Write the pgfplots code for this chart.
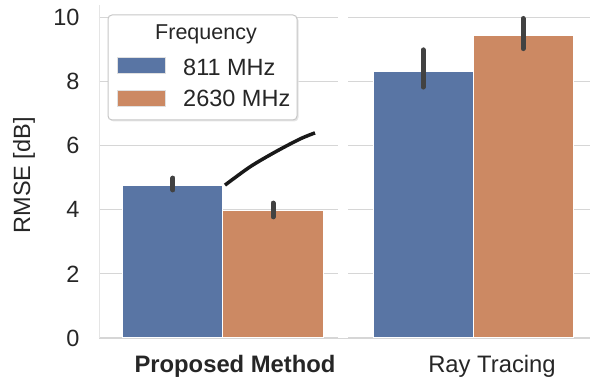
\documentclass[border=0pt]{standalone}
\usepackage{pgfplots}
\pgfplotsset{compat=1.18}
\usepackage{fontspec}
\setmainfont{Liberation Sans}
\definecolor{sbblue}{HTML}{5975A4}
\definecolor{sborange}{HTML}{CC8963}
\definecolor{gridc}{HTML}{D6D6D6}
\definecolor{errc}{HTML}{424242}
\definecolor{txt}{HTML}{262626}
\begin{document}
\begin{tikzpicture}
\useasboundingbox (0,0) rectangle (590pt,382pt);
\begin{axis}[
  at={(99pt,44pt)}, anchor=south west,
  scale only axis, width=491pt, height=333.3pt,
  xmin=-0.496, xmax=1.468, ymin=0, ymax=10.4,
  axis line style={draw=none},
  major tick length=0pt, tick style={draw=none},
  ymajorgrids, major grid style={gridc, line width=1.2pt},
  ytick={0,2,4,6,8,10}, yticklabels={0,2,4,6,8,10},
  xtick={0.048,1.076}, xticklabels={\textbf{Proposed Method},Ray Tracing},
  ticklabel style={text=txt},
  yticklabel style={font=\fontsize{23.5}{28}\selectfont, xshift=-16pt},
  xticklabel style={font=\fontsize{23.8}{28}\selectfont, yshift=-14pt},
  ylabel={RMSE [dB]},
  every axis y label/.style={at={([xshift=-75pt,yshift=-4pt]axis description cs:0,0.5)}, rotate=90, anchor=center, font=\fontsize{23.5}{28}\selectfont, text=txt},
]
\addplot[ybar, bar width=0.4, bar shift=0pt, fill=sbblue, draw=white, line width=1pt,
  error bars/.cd, y dir=both, y explicit, error mark=none,
  error bar style={line width=5pt, errc, line cap=round}]
  coordinates {(-0.2,4.77) += (0,0.22) -= (0,0.15)
               (0.8,8.30) += (0,0.69) -= (0,0.47)};
\addplot[ybar, bar width=0.4, bar shift=0pt, fill=sborange, draw=white, line width=1pt,
  error bars/.cd, y dir=both, y explicit, error mark=none,
  error bar style={line width=5pt, errc, line cap=round}]
  coordinates {(0.2,3.99) += (0,0.22) -= (0,0.21)
               (1.2,9.44) += (0,0.53) -= (0,0.41)};
\addplot[black!90, line width=3.5pt, smooth]
  coordinates {(0.008,4.77) (0.108,5.34) (0.208,5.80) (0.308,6.21) (0.368,6.40)};
\fill[white] (axis cs:0.46,-0.2) rectangle (axis cs:0.5,10.6);
\draw[black!10, line width=0.8pt] (axis description cs:0,0) -- (axis description cs:0,1);
\end{axis}
% legend
\fill[black!10, rounded corners=4pt] (109.5pt,365.5pt) rectangle (298.5pt,260.5pt);
\draw[black!22, line width=1pt, rounded corners=4pt, fill=white] (108pt,367pt) rectangle (297pt,262pt);
\node[anchor=base, inner sep=0pt, font=\fontsize{21.5}{26}\selectfont, text=txt] at (206pt,342pt) {Frequency};
\draw[black!12, line width=0.8pt, fill=sbblue] (117pt,325pt) rectangle (165pt,309pt);
\node[anchor=base west, inner sep=0pt, font=\fontsize{23.5}{28}\selectfont, text=txt] at (183pt,306pt) {811 MHz};
\draw[black!12, line width=0.8pt, fill=sborange] (117pt,292pt) rectangle (165pt,276pt);
\node[anchor=base west, inner sep=0pt, font=\fontsize{23.5}{28}\selectfont, text=txt] at (183pt,275pt) {2630 MHz};
\end{tikzpicture}
\end{document}
